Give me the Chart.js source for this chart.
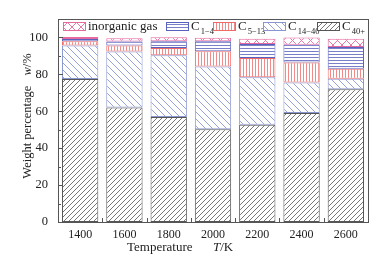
<!DOCTYPE html>
<html><head><meta charset="utf-8">
<script src="https://cdn.jsdelivr.net/npm/chart.js@4.4.1/dist/chart.umd.min.js"></script>
<style>html,body{margin:0;padding:0;background:#fff}#wrap{width:387px;height:262px}</style>
</head><body><div id="wrap"><canvas id="c" width="387" height="262"></canvas></div>
<script>
const categories = ['1400','1600','1800','2000','2200','2400','2600'];
const seriesNames = ['inorganic gas','C|1\u22124','C|5\u221213','C|14\u221240','C|40+'];
const inorganicGas = [1.1, 1.8, 2.2, 1.8, 2.9, 4.0, 4.5];
const c1to4 = [1.3, 2.2, 3.6, 5.5, 7.6, 9.6, 11.8];
const c5to13 = [2.2, 3.2, 4.0, 8.2, 10.3, 10.8, 5.4];
const c14to40 = [18.2, 30.3, 33.4, 34.0, 25.8, 16.6, 5.6];
const c40plus = [77.5, 62.1, 56.9, 50.3, 52.7, 59.0, 72.0];
const yTicks = [0, 20, 40, 60, 80, 100];
const yMinorTicks = [10, 30, 50, 70, 90];

const SERIF = "'Liberation Serif','Times New Roman',serif";
const ctxTmp = document.createElement('canvas').getContext('2d');
function makePattern(size, color, kind){
  const c = document.createElement('canvas'); c.width = size; c.height = size;
  const g = c.getContext('2d');
  g.fillStyle = '#fff'; g.fillRect(0,0,size,size);
  g.strokeStyle = color; g.lineWidth = 1;
  g.beginPath();
  if (kind === 'h'){ g.moveTo(0,0.5); g.lineTo(size,0.5); }
  if (kind === 'v'){ g.moveTo(0.5,0); g.lineTo(0.5,size); }
  if (kind === 'f' || kind === 'x'){
    g.moveTo(-1,size+1); g.lineTo(size+1,-1);
    g.moveTo(-1,1); g.lineTo(1,-1);
    g.moveTo(size-1,size+1); g.lineTo(size+1,size-1);
  }
  if (kind === 'b' || kind === 'x'){
    g.moveTo(-1,-1); g.lineTo(size+1,size+1);
    g.moveTo(size-1,-1); g.lineTo(size+1,1);
    g.moveTo(-1,size-1); g.lineTo(1,size+1);
  }
  g.stroke();
  return ctxTmp.createPattern(c,'repeat');
}
const styles = [
  {fill: makePattern(9,'#e77aa8','x'), border:'#e46aa0'},
  {fill: makePattern(3,'#7a80c8','h'), border:'#5a62c0'},
  {fill: makePattern(3,'#f28a8a','v'), border:'#ec6a6a'},
  {fill: makePattern(7,'#97a2d8','b'), border:'#8a96d0'},
  {fill: makePattern(5,'#777777','f'), border:'#555555'}
];
const values = [inorganicGas, c1to4, c5to13, c14to40, c40plus];
const datasets = [4,3,2,1,0].map(i => ({
  label: seriesNames[i],
  data: values[i],
  backgroundColor: styles[i].fill,
  borderColor: styles[i].border,
  borderWidth: 1,
  borderSkipped: false,
  categoryPercentage: 1,
  barPercentage: 0.82
}));

function drawLabel(g, text, x, y, size){
  const parts = text.split('|');
  g.font = size + 'px ' + SERIF;
  g.fillText(parts[0], x, y);
  let w = g.measureText(parts[0]).width;
  if (parts[1]){
    g.font = '8.5px ' + SERIF;
    g.fillText(parts[1], x + w + 1, y + 4.5);
    w += 1 + g.measureText(parts[1]).width;
  }
  return w;
}

const decor = {
  id: 'decor',
  afterDraw(chart){
    const g = chart.ctx, a = chart.chartArea, xs = chart.scales.x, ys = chart.scales.y;
    g.save();
    g.strokeStyle = '#555'; g.lineWidth = 1;
    g.strokeRect(Math.round(a.left)+0.5, Math.round(a.top)+0.5, Math.round(a.right-a.left), Math.round(a.bottom-a.top));
    g.beginPath();
    yTicks.forEach(v => { const y = Math.round(ys.getPixelForValue(v))+0.5; g.moveTo(a.left, y); g.lineTo(a.left+5, y); });
    yMinorTicks.forEach(v => { const y = Math.round(ys.getPixelForValue(v))+0.5; g.moveTo(a.left, y); g.lineTo(a.left+3, y); });
    for (let i = 0; i < categories.length-1; i++){
      const x = Math.round((xs.getPixelForValue(i)+xs.getPixelForValue(i+1))/2)+0.5;
      g.moveTo(x, a.bottom); g.lineTo(x, a.bottom-4);
    }
    g.stroke();
    // legend
    const lx = [63, 166, 213, 263, 317];
    g.textBaseline = 'middle'; g.textAlign = 'left';
    seriesNames.forEach((n, i) => {
      g.fillStyle = styles[i].fill;
      g.fillRect(lx[i], 22.5, 22, 8);
      g.strokeStyle = styles[i].border;
      g.strokeRect(lx[i]+0.5, 22.5, 22, 8);
      g.fillStyle = '#222';
      drawLabel(g, n, lx[i]+25, 27, 13);
    });
    // y title
    g.save();
    g.translate(28, 116); g.rotate(-Math.PI/2);
    g.textBaseline = 'middle'; g.textAlign = 'left';
    g.font = '12.5px ' + SERIF;
    const t1 = 'Weight percentage', gap = 10;
    const w1 = g.measureText(t1).width;
    g.font = 'italic 12.5px ' + SERIF; const ww = g.measureText('w').width;
    g.font = '12.5px ' + SERIF; const wp = g.measureText('/%').width;
    let x0 = -(w1 + gap + ww + wp)/2;
    g.fillStyle = '#222';
    g.fillText(t1, x0, 0);
    g.font = 'italic 12.5px ' + SERIF; g.fillText('w', x0 + w1 + gap, 0);
    g.font = '12.5px ' + SERIF; g.fillText('/%', x0 + w1 + gap + ww, 0);
    g.restore();
    // x title
    g.fillStyle = '#222';
    g.textBaseline = 'middle'; g.textAlign = 'left';
    g.font = '13px ' + SERIF; g.fillText('Temperature', 127, 248);
    g.font = 'italic 13px ' + SERIF; g.fillText('T', 213, 248);
    const tw = g.measureText('T').width;
    g.font = '13px ' + SERIF; g.fillText('/K', 213 + tw, 248);
    g.restore();
  }
};

new Chart(document.getElementById('c'), {
  type: 'bar',
  data: { labels: categories, datasets },
  options: {
    responsive: false, animation: false,
    layout: { padding: { top: 19, right: 19, left: 0, bottom: 0 } },
    plugins: { legend: { display: false }, tooltip: { enabled: false } },
    scales: {
      x: {
        stacked: true,
        grid: { display: false, drawTicks: false },
        border: { display: false },
        ticks: { font: { family: SERIF, size: 12 }, color: '#222', padding: 6 },
        afterFit(s){ s.height = 40; }
      },
      y: {
        stacked: true, min: 0, max: 110,
        grid: { display: false, drawTicks: false },
        border: { display: false },
        ticks: { font: { family: SERIF, size: 12.5 }, color: '#222', padding: 10, stepSize: 20 },
        afterBuildTicks(s){ s.ticks = yTicks.map(v => ({ value: v })); },
        afterFit(s){ s.width = 58; }
      }
    }
  },
  plugins: [decor]
});
</script></body></html>
